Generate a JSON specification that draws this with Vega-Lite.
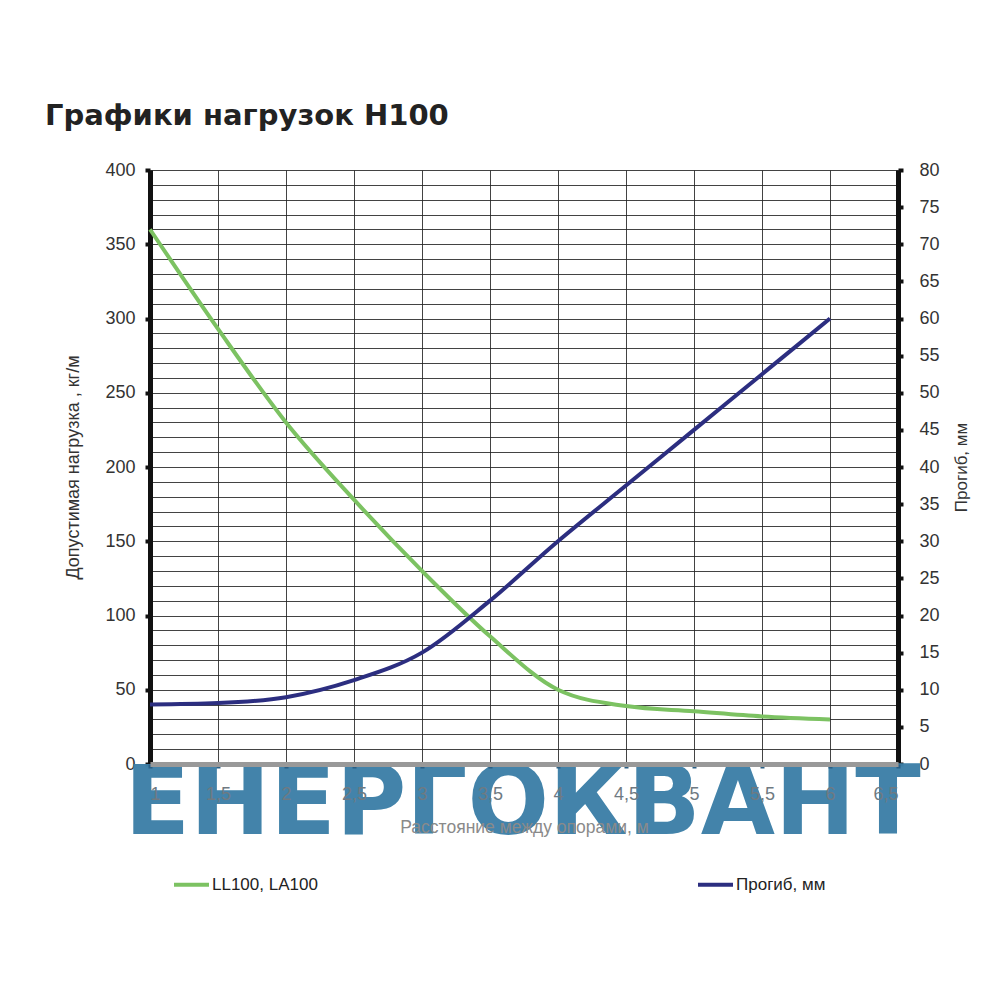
{
  "$schema": "https://vega.github.io/schema/vega-lite/v6.json",
  "autosize": "none",
  "width": 748,
  "height": 594,
  "padding": {"left": 150, "top": 170, "right": 102, "bottom": 236},
  "background": "white",
  "title": {
    "text": "Графики нагрузок H100",
    "anchor": "start",
    "frame": "group",
    "dx": -105,
    "offset": 30,
    "font": "DejaVu Sans",
    "fontSize": 29,
    "fontWeight": "bold",
    "color": "#222222"
  },
  "config": {"view": {"stroke": null}},
  "datasets": {
    "load": [
      {"span": 1, "value": 360, "series": "LL100, LA100"},
      {"span": 1.5, "value": 293, "series": "LL100, LA100"},
      {"span": 2, "value": 230, "series": "LL100, LA100"},
      {"span": 2.5, "value": 178, "series": "LL100, LA100"},
      {"span": 3, "value": 130, "series": "LL100, LA100"},
      {"span": 3.5, "value": 86, "series": "LL100, LA100"},
      {"span": 4, "value": 50, "series": "LL100, LA100"},
      {"span": 4.5, "value": 39, "series": "LL100, LA100"},
      {"span": 5, "value": 35.5, "series": "LL100, LA100"},
      {"span": 5.5, "value": 32, "series": "LL100, LA100"},
      {"span": 6, "value": 30, "series": "LL100, LA100"}
    ],
    "deflection": [
      {"span": 1, "value": 8, "series": "Прогиб, мм"},
      {"span": 1.5, "value": 8.2, "series": "Прогиб, мм"},
      {"span": 2, "value": 9, "series": "Прогиб, мм"},
      {"span": 2.5, "value": 11.3, "series": "Прогиб, мм"},
      {"span": 3, "value": 15, "series": "Прогиб, мм"},
      {"span": 3.5, "value": 22, "series": "Прогиб, мм"},
      {"span": 4, "value": 30, "series": "Прогиб, мм"},
      {"span": 4.5, "value": 37.5, "series": "Прогиб, мм"},
      {"span": 5, "value": 45, "series": "Прогиб, мм"},
      {"span": 5.5, "value": 52.5, "series": "Прогиб, мм"},
      {"span": 6, "value": 60, "series": "Прогиб, мм"}
    ],
    "mark": [
      {"word": "ЕНЕРГОКВАНТ", "span": 3.74, "value": -47}
    ]
  },
  "layer": [
    {
      "data": {"name": "load"},
      "mark": {"type": "line", "interpolate": "monotone", "strokeWidth": 4},
      "encoding": {
        "x": {
          "field": "span", "type": "quantitative",
          "scale": {"domain": [1, 6.5], "nice": false, "zero": false},
          "axis": {
            "orient": "bottom",
            "values": [1, 1.5, 2, 2.5, 3, 3.5, 4, 4.5, 5, 5.5, 6, 6.5],
            "grid": true, "gridColor": "#222222", "gridWidth": 1, "gridOpacity": 0.85,
            "labels": false, "ticks": false, "domain": false, "title": null
          }
        },
        "y": {
          "field": "value", "type": "quantitative",
          "scale": {"domain": [0, 400], "nice": false},
          "axis": {
            "orient": "left",
            "values": [0, 10, 20, 30, 40, 50, 60, 70, 80, 90, 100, 110, 120, 130, 140, 150, 160, 170, 180, 190, 200, 210, 220, 230, 240, 250, 260, 270, 280, 290, 300, 310, 320, 330, 340, 350, 360, 370, 380, 390, 400],
            "labelExpr": "datum.value % 50 === 0 ? datum.label : ''",
            "grid": true, "gridColor": "#222222", "gridWidth": 1, "gridOpacity": 0.85,
            "domainColor": "#111111", "domainWidth": 5,
            "tickColor": "#111111", "tickWidth": 4, "tickSize": 5,
            "tickOpacity": {"condition": {"test": "datum.value % 50 === 0", "value": 1}, "value": 0},
            "labelFont": "Liberation Sans", "labelFontSize": 18, "labelColor": "#333333", "labelPadding": 10,
            "title": "Допустимая нагрузка , кг/м",
            "titleFont": "Liberation Sans", "titleFontSize": 18, "titleFontWeight": "normal", "titleColor": "#333333",
            "titlePadding": 22
          }
        },
        "color": {
          "field": "series", "type": "nominal",
          "scale": {"domain": ["LL100, LA100", "Прогиб, мм"], "range": ["#7cc262", "#2c2e80"]},
          "legend": {
            "orient": "none", "legendX": 22, "legendY": 695,
            "direction": "horizontal", "title": null,
            "symbolType": "stroke", "symbolStrokeWidth": 4, "symbolSize": 1225,
            "labelFont": "Liberation Sans", "labelFontSize": 17, "labelColor": "#222222",
            "labelOffset": 1, "columnPadding": 372, "padding": 0
          }
        }
      }
    },
    {
      "data": {"name": "deflection"},
      "mark": {"type": "line", "interpolate": "monotone", "strokeWidth": 4},
      "encoding": {
        "x": {
          "field": "span", "type": "quantitative",
          "scale": {"domain": [1, 6.5], "nice": false, "zero": false},
          "axis": null
        },
        "y": {
          "field": "value", "type": "quantitative",
          "scale": {"domain": [0, 80], "nice": false},
          "axis": {
            "orient": "right",
            "values": [0, 5, 10, 15, 20, 25, 30, 35, 40, 45, 50, 55, 60, 65, 70, 75, 80],
            "grid": false,
            "domainColor": "#111111", "domainWidth": 5,
            "tickColor": "#111111", "tickWidth": 4, "tickSize": 5,
            "labelFont": "Liberation Sans", "labelFontSize": 18, "labelColor": "#333333", "labelPadding": 16,
            "title": "Прогиб, мм",
            "titleFont": "Liberation Sans", "titleFontSize": 17, "titleFontWeight": "normal", "titleColor": "#333333",
            "titleAngle": 270, "titleBaseline": "top", "titlePadding": 14
          }
        },
        "color": {"field": "series", "type": "nominal"}
      }
    },
    {
      "data": {"name": "mark"},
      "mark": {"type": "text", "font": "DejaVu Sans", "fontWeight": "bold", "fontSize": 96, "color": "#3d80a8", "baseline": "alphabetic", "align": "center", "opacity": 0.97},
      "encoding": {
        "text": {"field": "word"},
        "x": {
          "field": "span", "type": "quantitative",
          "scale": {"domain": [1, 6.5], "nice": false, "zero": false},
          "axis": {
            "orient": "bottom",
            "values": [1, 1.5, 2, 2.5, 3, 3.5, 4, 4.5, 5, 5.5, 6, 6.5],
            "labelExpr": "replace(format(datum.value, '.1~f'), '.', ',')",
            "grid": false, "zindex": 1,
            "domainColor": "#999999", "domainWidth": 5,
            "tickColor": "#2a5f85", "tickWidth": 4, "tickSize": 4,
            "labelFont": "Liberation Sans", "labelFontSize": 18, "labelColor": "#6f7a82", "labelPadding": 17,
            "title": "Расстояние между опорами, м",
            "titleFont": "Liberation Sans", "titleFontSize": 17.5, "titleFontWeight": "normal", "titleColor": "#8a8a8a",
            "titlePadding": 15
          }
        },
        "y": {
          "field": "value", "type": "quantitative",
          "scale": {"domain": [0, 400], "nice": false},
          "axis": null
        }
      }
    }
  ],
  "resolve": {"scale": {"x": "independent", "y": "independent", "color": "shared"}}
}
